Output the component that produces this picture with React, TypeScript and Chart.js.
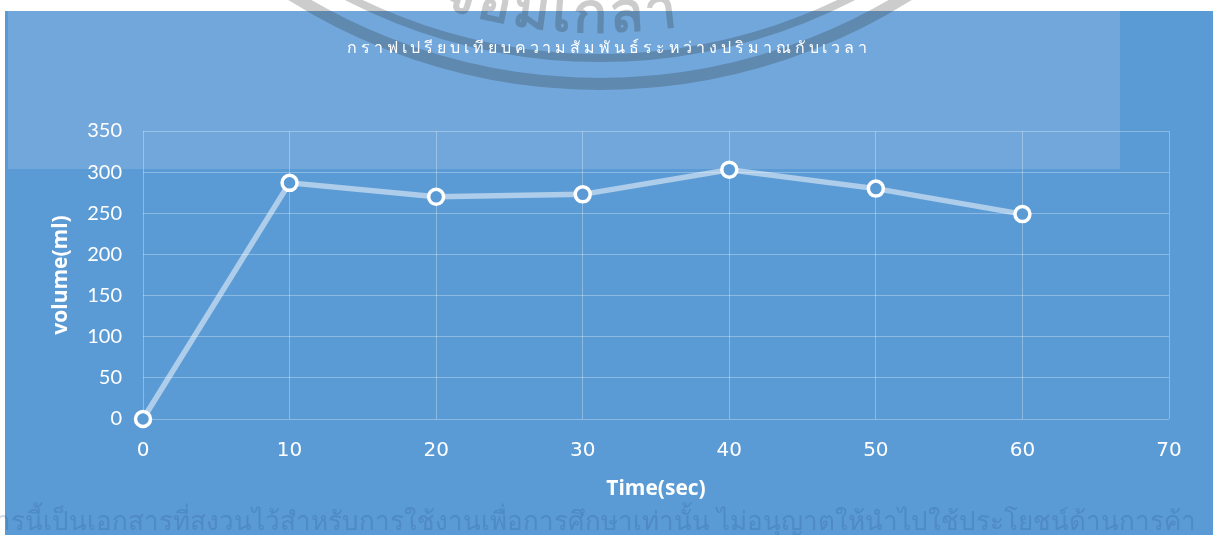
import React, { useEffect, useRef } from "react";
import { Chart, registerables } from "chart.js";

Chart.register(...registerables);

const chartTitle = "กราฟเปรียบเทียบความสัมพันธ์ระหว่างปริมาณกับเวลา";
const xTitle = "Time(sec)";
const yTitle = "volume(ml)";
const timeValues = [0, 10, 20, 30, 40, 50, 60];
const volumeValues = [0, 287, 270, 273, 303, 280, 249];
const xMin = 0;
const xMax = 70;
const xStep = 10;
const yMin = 0;
const yMax = 350;
const yStep = 50;
const watermarkLogoGlyphs = ["จ", "อ", "ม", "เ", "ก", "ล้", "า"];
const watermarkFooter =
  "เอกสารนี้เป็นเอกสารที่สงวนไว้สำหรับการใช้งานเพื่อการศึกษาเท่านั้น ไม่อนุญาตให้นำไปใช้ประโยชน์ด้านการค้า";

const W = 1216;
const H = 535;
const BLUE = "#5B9BD5";
const LIGHT = "#72A7DB";

const decorPlugin = {
  id: "decor",
  beforeDraw(chart: any) {
    const ctx = chart.ctx as CanvasRenderingContext2D;
    ctx.save();
    ctx.fillStyle = "#ffffff";
    ctx.fillRect(0, 0, W, H);
    ctx.fillStyle = BLUE;
    ctx.fillRect(5, 11, 1208, H - 11);
    ctx.fillStyle = LIGHT;
    ctx.fillRect(8, 11, 1112, 158);

    // watermark logo arcs
    const cx = 600;
    const cy = -494;
    ctx.strokeStyle = "rgba(40,40,40,0.24)";
    ctx.lineWidth = 12;
    ctx.beginPath();
    ctx.arc(cx, cy, 578, 0, Math.PI);
    ctx.stroke();
    ctx.lineWidth = 8;
    ctx.beginPath();
    ctx.arc(cx, cy, 552, 0, Math.PI);
    ctx.stroke();

    // logo text along arc
    ctx.fillStyle = "rgba(40,40,40,0.24)";
    ctx.font = "bold 56px 'Noto Sans', sans-serif";
    ctx.textAlign = "center";
    ctx.textBaseline = "alphabetic";
    const r = 526;
    const widths = watermarkLogoGlyphs.map((g) => ctx.measureText(g).width + 3);
    const total = widths.reduce((a, b) => a + b, 0);
    const centerX = 558;
    const centerAngle = Math.PI / 2 + Math.asin((cx - centerX) / r);
    let s = -total / 2;
    watermarkLogoGlyphs.forEach((g, i) => {
      const mid = s + widths[i] / 2;
      const th = centerAngle - mid / r;
      const px = cx + r * Math.cos(th);
      const py = cy + r * Math.sin(th);
      ctx.save();
      ctx.translate(px, py);
      ctx.rotate(th - Math.PI / 2);
      ctx.fillText(g, 0, 0);
      ctx.restore();
      s += widths[i];
    });

    // footer watermark
    ctx.fillStyle = "rgba(30,70,130,0.2)";
    ctx.font = "26px 'Noto Sans', sans-serif";
    ctx.textAlign = "right";
    ctx.fillText(watermarkFooter, 1196, 530);

    // title
    ctx.fillStyle = "#ffffff";
    ctx.font = "16px 'Noto Sans', sans-serif";
    (ctx as any).letterSpacing = "3.9px";
    ctx.textAlign = "center";
    ctx.textBaseline = "middle";
    ctx.fillText(chartTitle, 609, 48);
    (ctx as any).letterSpacing = "0px";
    ctx.restore();
  },
};

export default function App() {
  const ref = useRef<HTMLCanvasElement | null>(null);
  useEffect(() => {
    document.body.style.margin = "0";
    const canvas = ref.current!;
    const chart = new Chart(canvas, {
      type: "line",
      data: {
        datasets: [
          {
            data: timeValues.map((t, i) => ({ x: t, y: volumeValues[i] })),
            borderColor: "rgba(255,255,255,0.5)",
            borderWidth: 5.5,
            pointRadius: 7.5,
            pointBorderWidth: 3.5,
            pointBackgroundColor: BLUE,
            pointBorderColor: "#ffffff",
            tension: 0,
            clip: false,
          },
        ],
      },
      plugins: [decorPlugin],
      options: {
        animation: false,
        responsive: false,
        maintainAspectRatio: false,
        layout: { padding: { left: 0, right: 47, top: 131, bottom: 0 } },
        plugins: {
          legend: { display: false },
          title: { display: false },
          tooltip: { enabled: false },
        },
        scales: {
          x: {
            type: "linear",
            min: xMin,
            max: xMax,
            ticks: {
              stepSize: xStep,
              color: "#ffffff",
              font: { family: "'DejaVu Sans'", size: 20 },
              padding: 20,
              maxRotation: 0,
            },
            grid: { color: "rgba(255,255,255,0.3)", drawTicks: false, lineWidth: 1 },
            border: { display: false },
            title: {
              display: true,
              text: xTitle,
              color: "#ffffff",
              font: { family: "'Open Sans'", size: 21, weight: "bold" },
              padding: { top: 0, bottom: 33 },
            },
            afterFit(scale: any) {
              scale.height = 116;
            },
          },
          y: {
            min: yMin,
            max: yMax,
            ticks: {
              stepSize: yStep,
              color: "#ffffff",
              font: { family: "Lato", size: 20 },
              padding: 21,
            },
            grid: { color: "rgba(255,255,255,0.3)", drawTicks: false, lineWidth: 1 },
            border: { display: false },
            title: {
              display: true,
              text: yTitle,
              color: "#ffffff",
              font: { family: "'Open Sans'", size: 21, weight: "bold" },
              padding: { top: 48, bottom: 0 },
            },
            afterFit(scale: any) {
              scale.width = 143;
            },
          },
        },
      } as any,
    });
    return () => chart.destroy();
  }, []);
  return (
    <div style={{ width: W, height: H }}>
      <canvas ref={ref} width={W} height={H} style={{ display: "block" }} />
    </div>
  );
}
